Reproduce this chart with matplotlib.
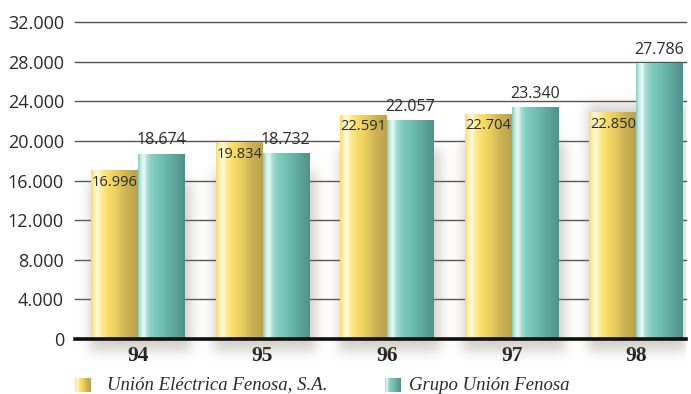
import numpy as np
import matplotlib
matplotlib.use('Agg')
import matplotlib.pyplot as plt
from matplotlib.colors import LinearSegmentedColormap

# ---------------- data ----------------
years = ['94', '95', '96', '97', '98']
union_electrica = [16996, 19834, 22591, 22704, 22850]
grupo_union = [18674, 18732, 22057, 23340, 27786]
yticks = [0, 4000, 8000, 12000, 16000, 20000, 24000, 28000, 32000]
ytick_labels = ['0', '4.000', '8.000', '12.000', '16.000', '20.000', '24.000', '28.000', '32.000']
series_names = ['Unión Eléctrica Fenosa, S.A.', 'Grupo Unión Fenosa']

def fmt(v):
    return f"{v:,}".replace(',', '.')

# ---------------- styles ----------------
yellow_cmap = LinearSegmentedColormap.from_list('yel', [
    (0.00, '#F6DA6E'), (0.07, '#FFF0A8'), (0.14, '#FFFBE6'), (0.22, '#FFEC94'),
    (0.35, '#FBDD6A'), (0.55, '#EBCD5E'), (0.75, '#CDB354'), (1.00, '#BBA34C')])
teal_cmap = LinearSegmentedColormap.from_list('teal', [
    (0.00, '#86CFC2'), (0.07, '#CDEDE6'), (0.13, '#EEF9F6'), (0.20, '#A6DDD3'),
    (0.32, '#7ECDC0'), (0.55, '#6EBDB1'), (0.80, '#5CA399'), (1.00, '#4F9288')])

text_color = '#2b2b2b'
W_PX, H_PX = 691, 394
fig = plt.figure(figsize=(W_PX / 100, H_PX / 100), dpi=100)
ax_l, ax_r, ax_b, ax_t = 75, 686, 339, 22
ax = fig.add_axes([ax_l / W_PX, (H_PX - ax_b) / H_PX, (ax_r - ax_l) / W_PX, (ax_b - ax_t) / H_PX])

x = np.arange(len(years))
width = 0.375
bars1 = ax.bar(x - width / 2, union_electrica, width, color='none', edgecolor='none', zorder=3)
bars2 = ax.bar(x + width / 2, grupo_union, width, color='none', edgecolor='none', zorder=3)

xlim = (-0.506, 4.40)
ylim = (0, 32000)
ax.set_xlim(*xlim)
ax.set_ylim(*ylim)

# ---------------- soft shadow ----------------
axw = ax_r - ax_l
axh = ax_b - ax_t
below = 28
Wimg, Himg = axw, axh + below
mask = np.zeros((Himg, Wimg))
def to_px(xd):
    return (xd - xlim[0]) / (xlim[1] - xlim[0]) * Wimg
def to_py(yd):  # row index from top
    return int(round(axh - yd / ylim[1] * axh))
for b1, b2 in zip(bars1, bars2):
    left = to_px(b1.get_x()) - 1
    right = to_px(b2.get_x() + b2.get_width()) + 7
    top = to_py(max(b1.get_height(), b2.get_height()) * 0.85)
    mask[top:axh + 12, int(left):int(right)] = 1.0
def blur(a, sigma):
    r = int(3 * sigma)
    k = np.exp(-0.5 * (np.arange(-r, r + 1) / sigma) ** 2)
    k /= k.sum()
    a = np.apply_along_axis(lambda m: np.convolve(m, k, mode='same'), 1, a)
    a = np.apply_along_axis(lambda m: np.convolve(m, k, mode='same'), 0, a)
    return a
mask = blur(mask, 6)
shadow = np.zeros((Himg, Wimg, 4))
shadow[..., 0] = 0.55
shadow[..., 1] = 0.52
shadow[..., 2] = 0.46
shadow[..., 3] = mask * 0.38
ybot = -below / axh * ylim[1]
im = ax.imshow(shadow, extent=[xlim[0], xlim[1], ybot, ylim[1]], aspect='auto',
               zorder=1.5, interpolation='bilinear')
im.set_clip_on(False)

# ---------------- gradient bars ----------------
grad = np.linspace(0, 1, 256).reshape(1, -1)
for bars, cmap in ((bars1, yellow_cmap), (bars2, teal_cmap)):
    for b in bars:
        x0, w, h = b.get_x(), b.get_width(), b.get_height()
        ax.imshow(grad, cmap=cmap, extent=[x0, x0 + w, 0, h], aspect='auto',
                  zorder=3, interpolation='bilinear')

ax.set_xlim(*xlim)
ax.set_ylim(*ylim)

# ---------------- value labels ----------------
for b, v in zip(bars1, union_electrica):
    ax.annotate(fmt(v), (b.get_x() + b.get_width() / 2, v), xytext=(0, -3),
                textcoords='offset points', ha='center', va='top',
                fontsize=10.5, family='Open Sans', color=text_color, zorder=5)
for b, v in zip(bars2, grupo_union):
    ax.annotate(fmt(v), (b.get_x() + b.get_width() / 2, v), xytext=(0, 4),
                textcoords='offset points', ha='center', va='bottom',
                fontsize=11.5, family='Open Sans', color=text_color, zorder=5)

# ---------------- axes styling ----------------
ax.set_yticks(yticks, ytick_labels)
ax.set_xticks(x, years)
ax.tick_params(axis='y', length=0, pad=8, labelsize=13, labelcolor=text_color)
ax.tick_params(axis='x', length=0, pad=5, labelsize=15.5, labelcolor='#1a1a1a')
for lab in ax.get_yticklabels():
    lab.set_family('Open Sans')
for lab in ax.get_xticklabels():
    lab.set_family('Liberation Serif')
    lab.set_fontweight('bold')
ax.yaxis.grid(True, color='#555555', linewidth=1.0, zorder=0.5)
ax.set_axisbelow(True)
for gl in ax.get_ygridlines():
    gl.set_clip_on(False)
for s in ('top', 'left', 'right'):
    ax.spines[s].set_visible(False)
ax.spines['bottom'].set_color('#111111')
ax.spines['bottom'].set_linewidth(2.6)
ax.spines['bottom'].set_zorder(6)
ax.patch.set_alpha(0)

# ---------------- legend ----------------
def swatch(px_left, cmap):
    sax = fig.add_axes([px_left / W_PX, (H_PX - 392) / H_PX, 16 / W_PX, 14 / H_PX])
    sax.imshow(grad, cmap=cmap, aspect='auto', interpolation='bilinear')
    sax.axis('off')
swatch(75, yellow_cmap)
swatch(385, teal_cmap)
fig.text(107 / W_PX, (H_PX - 385) / H_PX, series_names[0], ha='left', va='center',
         fontsize=13.5, style='italic', family='Liberation Serif', color=text_color)
fig.text(409 / W_PX, (H_PX - 385) / H_PX, series_names[1], ha='left', va='center',
         fontsize=13.5, style='italic', family='Liberation Serif', color=text_color)

fig.savefig('out.png', dpi=100)
